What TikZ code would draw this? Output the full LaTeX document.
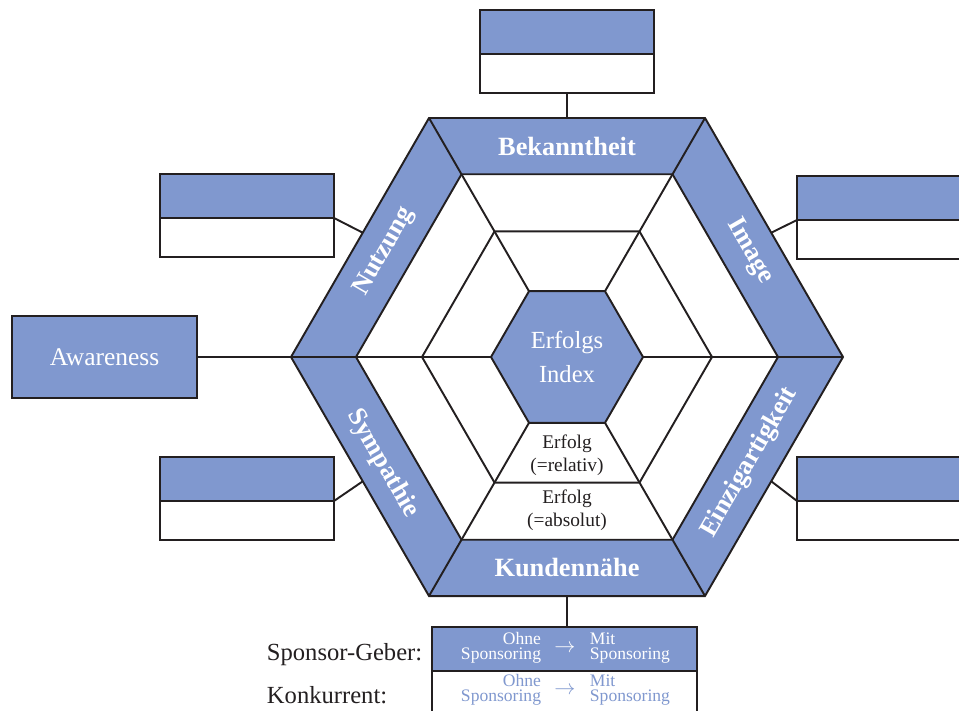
\documentclass[tikz,border=0pt]{standalone}
\usepackage{fontspec}
\setmainfont{Liberation Serif}
\usetikzlibrary{
    positioning,
    calc
}
\definecolor{hexblue}{RGB}{128,152,207}
\definecolor{lineblack}{RGB}{35,31,32}

\begin{document}
\begin{tikzpicture}[
    x=0.02cm, y=-0.02cm,
    line width=1.1pt,
    band/.style={fill=hexblue, draw=lineblack, even odd rule},
    web/.style={draw=lineblack},
    core/.style={fill=hexblue, draw=lineblack},
    bandlabel/.style={font=\fontsize{15}{18}\selectfont\bfseries, text=white, inner sep=0pt},
    coretext/.style={font=\fontsize{14}{19.5}\selectfont, text=white, align=center, inner sep=0pt},
    sector/.style={font=\fontsize{11}{13}\selectfont, text=lineblack, align=center, inner sep=0pt},
    boxhead/.style={rectangle, draw=lineblack, fill=hexblue, minimum width=3.48cm, minimum height=0.88cm, inner sep=0pt, outer sep=0pt},
    boxbody/.style={rectangle, draw=lineblack, fill=white, minimum width=3.48cm, minimum height=0.78cm, inner sep=0pt, outer sep=0pt},
    link/.style={draw=lineblack},
    legend/.style={font=\fontsize{14}{16}\selectfont, text=lineblack, inner sep=0pt},
    sponsor/.style={font=\fontsize{10}{8.5}\selectfont, inner sep=0pt},
    pfeil/.style={font=\fontsize{12}{12}\selectfont, inner sep=0pt}
]
\useasboundingbox (0,0) rectangle (959,710);
\clip (0,0) rectangle (959,710);

% Hexagon corners
\coordinate (ctr) at (567,357);
\foreach \k in {0,...,5} {
    \coordinate (o\k) at ($(ctr)+(\k*60:276)$);
    \coordinate (i\k) at ($(ctr)+(\k*60:211)$);
    \coordinate (m\k) at ($(ctr)+(\k*60:145)$);
    \coordinate (c\k) at ($(ctr)+(\k*60:76)$);
}

% Outer band
\path[band] (o0) -- (o1) -- (o2) -- (o3) -- (o4) -- (o5) -- cycle
            (i0) -- (i1) -- (i2) -- (i3) -- (i4) -- (i5) -- cycle;
\foreach \k in {0,...,5}
    \draw[web] (o\k) -- (i\k);

% Inner web
\draw[web] (m0) -- (m1) -- (m2) -- (m3) -- (m4) -- (m5) -- cycle;
\foreach \k in {0,...,5}
    \draw[web] (c\k) -- (i\k);
\path[core] (c0) -- (c1) -- (c2) -- (c3) -- (c4) -- (c5) -- cycle;

\node[coretext] (index) at (ctr) {Erfolgs\\Index};
\node[sector] (relativ) at (567,455) {Erfolg\\(=relativ)};
\node[sector] (absolut) at (567,510) {Erfolg\\(=absolut)};

% Band labels
\node[bandlabel] (bekanntheit) at ($(ctr)+(270:211)$) {Bekanntheit};
\node[bandlabel] (kundennaehe) at ($(ctr)+(90:211)$) {Kundennähe};
\node[bandlabel, rotate=60] (nutzung) at ($(ctr)+(210:211)$) {Nutzung};
\node[bandlabel, rotate=-60] (image) at ($(ctr)+(330:211)$) {Image};
\node[bandlabel, rotate=-60] (sympathie) at ($(ctr)+(150:213)$) {Sympathie};
\node[bandlabel, rotate=60] (einzig) at ($(ctr)+(30:211)$) {Einzigartigkeit};

% Edge points
\coordinate (e-top) at ($(o4)!0.5!(o5)$);
\coordinate (e-bottom) at ($(o1)!0.5!(o2)$);
\coordinate (e-ul) at ($(o3)!0.52!(o4)$);
\coordinate (e-ll) at ($(o3)!0.52!(o2)$);
\coordinate (e-ur) at ($(o0)!0.52!(o5)$);
\coordinate (e-lr) at ($(o0)!0.52!(o1)$);

% Boxes
\node[boxhead] (top-head) at (567,32) {};
\node[boxbody, below=0pt of top-head] (top-body) {};
\node[boxhead] (ul-head) at (247,196) {};
\node[boxbody, below=0pt of ul-head] (ul-body) {};
\node[boxhead] (ur-head) at (884,198) {};
\node[boxbody, below=0pt of ur-head] (ur-body) {};
\node[boxhead] (ll-head) at (247,479) {};
\node[boxbody, below=0pt of ll-head] (ll-body) {};
\node[boxhead] (lr-head) at (884,479) {};
\node[boxbody, below=0pt of lr-head] (lr-body) {};
\node[boxhead, minimum width=3.7cm, minimum height=1.64cm, font=\fontsize{14.5}{17}\selectfont, text=white] (awareness) at (104.5,357) {Awareness};

\draw[link] (top-body) -- (e-top);
\draw[link] (awareness) -- (o3);
\draw[link] (ul-body.north east) -- (e-ul);
\draw[link] (ll-body.north east) -- (e-ll);
\draw[link] (ur-body.north west) -- (e-ur);
\draw[link] (lr-body.north west) -- (e-lr);

% Sponsoring legend
\node[boxhead, minimum width=5.3cm] (geber-head) at (564.5,649) {};
\node[boxbody, minimum width=5.3cm, minimum height=0.88cm, below=0pt of geber-head] (konk-body) {};
\draw[link] (e-bottom) -- (e-bottom |- geber-head.north);

\node[sponsor, text=white, align=right, anchor=east] (ohne-geber) at (542,648) {Ohne\\Sponsoring};
\node[pfeil, text=white] (pfeil-geber) at (565,649) {$\rightarrow$};
\node[sponsor, text=white, align=left, anchor=west] (mit-geber) at (589,648) {Mit\\Sponsoring};
\node[sponsor, text=hexblue, align=right, anchor=east] (ohne-konk) at (542,690) {Ohne\\Sponsoring};
\node[pfeil, text=hexblue] (pfeil-konk) at (565,691) {$\rightarrow$};
\node[sponsor, text=hexblue, align=left, anchor=west] (mit-konk) at (589,690) {Mit\\Sponsoring};

\node[legend, anchor=base west] (geber-label) at (266,660) {Sponsor-Geber:};
\node[legend, anchor=base west] (konk-label) at (266,703) {Konkurrent:};

\end{tikzpicture}
\end{document}
